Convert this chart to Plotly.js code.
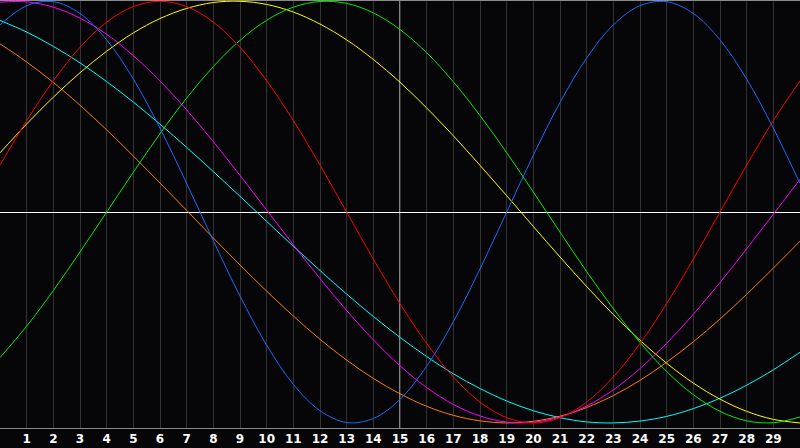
<!DOCTYPE html>
<html>
<head>
<meta charset="utf-8">
<script src="https://cdn.plot.ly/plotly-3.0.1.min.js"></script>
<style>
  html, body { margin: 0; padding: 0; background: #060508; }
  #chart { width: 800px; height: 448px; }
</style>
</head>
<body>
<div id="chart"></div>
<script>
// Days shown on the x axis (0..30), today marked at day 15
const days = [0,1,2,3,4,5,6,7,8,9,10,11,12,13,14,15,16,17,18,19,20,21,22,23,24,25,26,27,28,29,30];
const tickDays = [1,2,3,4,5,6,7,8,9,10,11,12,13,14,15,16,17,18,19,20,21,22,23,24,25,26,27,28,29];
const tickLabels = ["1","2","3","4","5","6","7","8","9","10","11","12","13","14","15","16","17","18","19","20","21","22","23","24","25","26","27","28","29"];
const today = 15;

// Cycle values (-1 .. 1)
const physical = [0.888,0.979,0.998,0.942,0.817,0.631,0.398,0.136,-0.136,-0.398,-0.631,-0.817,-0.942,-0.998,-0.979,-0.888,-0.731,-0.520,-0.270,0.000,0.270,0.520,0.731,0.888,0.979,0.998,0.942,0.817,0.631,0.398,0.136];
const emotional = [0.223,0.434,0.623,0.782,0.901,0.975,1.000,0.975,0.901,0.782,0.623,0.434,0.223,0.000,-0.223,-0.434,-0.623,-0.782,-0.901,-0.975,-1.000,-0.975,-0.901,-0.782,-0.623,-0.434,-0.223,0.000,0.223,0.434,0.623];
const intellectual = [-0.690,-0.541,-0.372,-0.189,0.000,0.189,0.372,0.541,0.690,0.815,0.910,0.972,0.999,0.990,0.945,0.866,0.756,0.618,0.458,0.282,0.095,-0.095,-0.282,-0.458,-0.618,-0.756,-0.866,-0.945,-0.990,-0.999,-0.972];
const intuitive = [0.996,0.997,0.972,0.920,0.843,0.742,0.622,0.485,0.334,0.174,0.010,-0.155,-0.315,-0.467,-0.606,-0.729,-0.832,-0.912,-0.967,-0.996,-0.997,-0.972,-0.920,-0.843,-0.742,-0.622,-0.485,-0.334,-0.174,-0.010,0.155];
const aesthetic = [0.281,0.418,0.545,0.661,0.763,0.850,0.918,0.966,0.994,1.000,0.985,0.949,0.892,0.817,0.724,0.616,0.494,0.362,0.222,0.078,-0.068,-0.213,-0.353,-0.486,-0.608,-0.717,-0.811,-0.887,-0.945,-0.983,-1.000];
const awareness = [0.798,0.712,0.615,0.507,0.390,0.266,0.138,0.008,-0.123,-0.251,-0.375,-0.493,-0.603,-0.702,-0.789,-0.862,-0.921,-0.964,-0.990,-1.000,-0.992,-0.968,-0.927,-0.870,-0.798,-0.712,-0.615,-0.507,-0.390,-0.266,-0.138];
const spiritual = [0.909,0.854,0.786,0.708,0.619,0.522,0.417,0.307,0.192,0.075,-0.044,-0.162,-0.277,-0.389,-0.495,-0.594,-0.685,-0.767,-0.837,-0.896,-0.942,-0.975,-0.995,-1.000,-0.991,-0.969,-0.932,-0.883,-0.821,-0.748,-0.665];

const seriesNames = ["Physical","Emotional","Intellectual","Intuitive","Aesthetic","Awareness","Spiritual"];
const seriesValues = [physical, emotional, intellectual, intuitive, aesthetic, awareness, spiritual];
const seriesColors = ["#1a6cff","#ff0000","#00ee00","#ff00ff","#ffff00","#ff7f00","#00ffff"];

const drawOrder = [6,5,4,3,2,1,0];
const traces = drawOrder.map(i => ({
  x: days,
  y: seriesValues[i],
  name: seriesNames[i],
  type: "scatter",
  mode: "lines",
  line: { color: seriesColors[i], width: 1, shape: "spline", smoothing: 1 },
  hoverinfo: "skip"
}));

const layout = {
  width: 800,
  height: 448,
  margin: { l: 0, r: 0, t: 0, b: 20, pad: 0 },
  paper_bgcolor: "#060508",
  plot_bgcolor: "#060508",
  showlegend: false,
  xaxis: {
    range: [0, 30],
    tickmode: "array",
    tickvals: tickDays,
    ticktext: tickLabels,
    ticks: "",
    showgrid: true,
    gridcolor: "#333333",
    gridwidth: 1,
    zeroline: false,
    showline: true,
    linecolor: "#8a8a8a",
    linewidth: 1,
    mirror: false,
    tickfont: { family: "DejaVu Sans", size: 12, color: "#ffffff", weight: "bold" },
    fixedrange: true
  },
  yaxis: {
    range: [-1.024, 1.006],
    showgrid: false,
    showticklabels: false,
    ticks: "",
    zeroline: true,
    zerolinecolor: "#ffffff",
    zerolinewidth: 1,
    showline: true,
    linecolor: "#8a8a8a",
    linewidth: 1,
    fixedrange: true
  },
  shapes: [
    { type: "line", xref: "x", yref: "paper", x0: today, x1: today, y0: 0, y1: 1,
      line: { color: "#ffffff", width: 1 }, layer: "below" },
    { type: "line", xref: "paper", yref: "paper", x0: 0, x1: 1, y0: 1, y1: 1,
      line: { color: "#8a8a8a", width: 2 } }
  ]
};

Plotly.newPlot("chart", traces, layout, { staticPlot: true, displayModeBar: false });
</script>
</body>
</html>
